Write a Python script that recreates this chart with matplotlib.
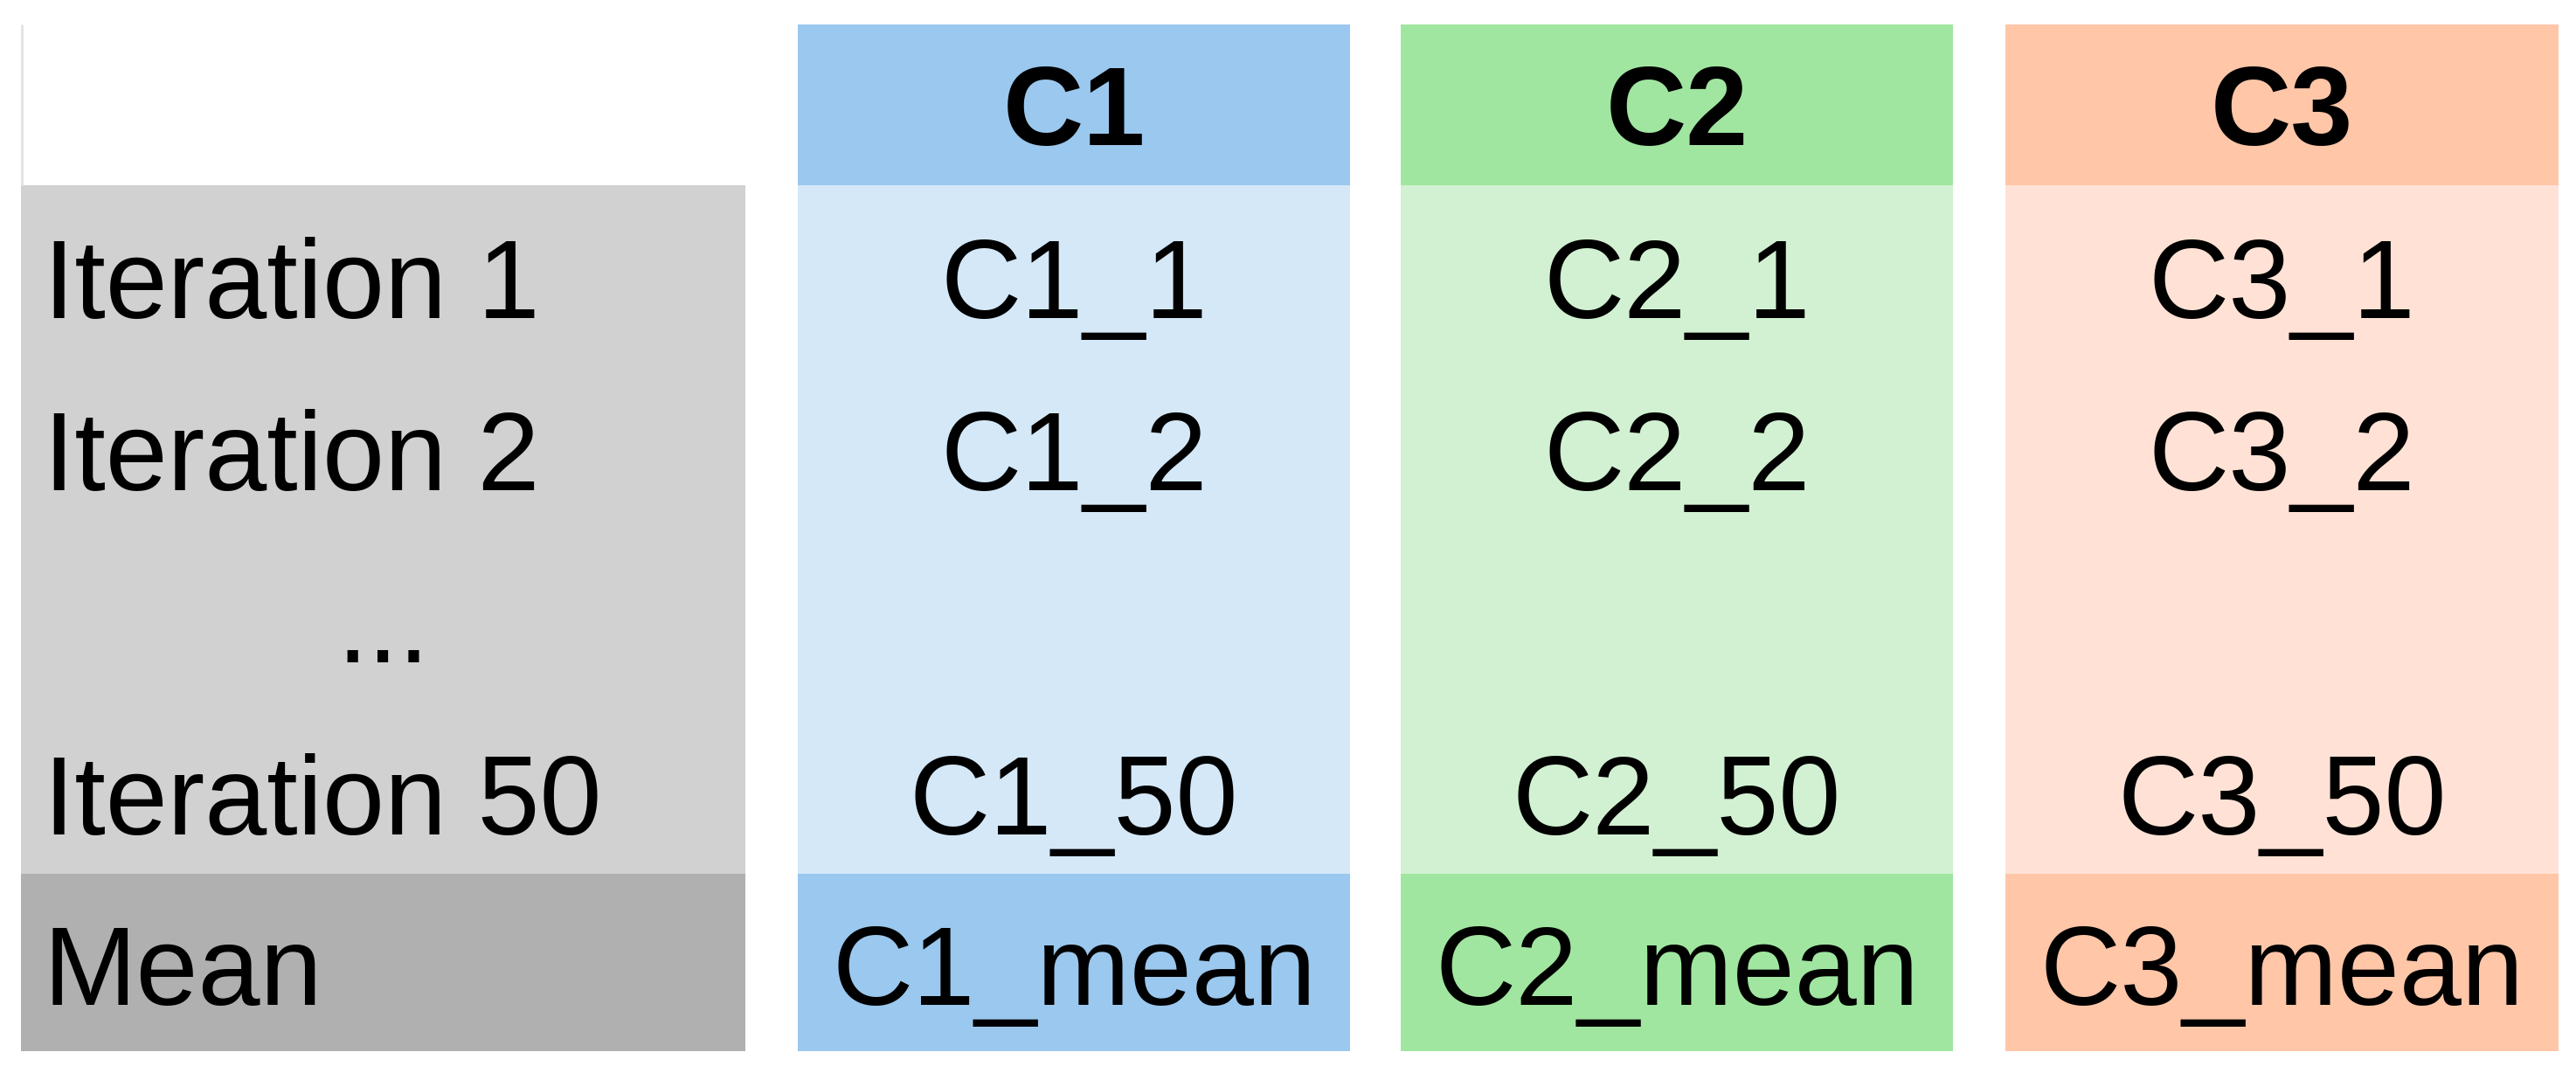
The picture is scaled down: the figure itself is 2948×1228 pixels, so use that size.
import matplotlib
matplotlib.use("Agg")
import matplotlib.pyplot as plt
from matplotlib.patches import Rectangle

plt.rcParams['font.family'] = ['Liberation Sans', 'DejaVu Sans']

# ---- table content ----
columns = ['C1', 'C2', 'C3']
row_labels = ['Iteration 1', 'Iteration 2', '...', 'Iteration 50']
mean_label = 'Mean'
cell_values = {
    'C1': ['C1_1', 'C1_2', '', 'C1_50'],
    'C2': ['C2_1', 'C2_2', '', 'C2_50'],
    'C3': ['C3_1', 'C3_2', '', 'C3_50'],
}
mean_values = ['C1_mean', 'C2_mean', 'C3_mean']

# ---- colours ----
header_colors = ['#9BC8EE', '#A0E6A0', '#FFC6A8']
body_colors = ['#D4E8F8', '#D2F1D2', '#FFE2D5']
label_body_color = '#D1D1D1'
label_mean_color = '#B0B0B0'

# ---- layout (pixels) ----
W, H = 2948, 1228
label_x0, label_x1 = 24, 853
col_x = [(913, 1545), (1603, 2235), (2295, 2928)]
header_y0, header_y1 = 28, 212
body_y1 = 1000
mean_y1 = 1203
header_base = 166
row_bases = [364, 561, 758, 955]
mean_base = 1150
fs = 92

fig = plt.figure(figsize=(W / 100, H / 100), dpi=100)
ax = fig.add_axes([0, 0, 1, 1])
ax.set_xlim(0, W)
ax.set_ylim(H, 0)
ax.axis('off')

def rect(x0, y0, x1, y1, color):
    ax.add_patch(Rectangle((x0, y0), x1 - x0, y1 - y0, facecolor=color,
                           edgecolor='none', linewidth=0))

# label column
ax.plot([label_x0 + 1.5, label_x0 + 1.5], [header_y0, header_y1],
        color='#E4E4E4', linewidth=2.2, solid_capstyle='butt')
rect(label_x0, header_y1, label_x1, body_y1, label_body_color)
rect(label_x0, body_y1, label_x1, mean_y1, label_mean_color)

for lbl, yb in zip(row_labels, row_bases):
    if lbl == '...':
        ax.text((label_x0 + label_x1) / 2, yb, lbl, ha='center', va='baseline',
                fontsize=fs, color='black')
    else:
        ax.text(label_x0 + 26, yb, lbl, ha='left', va='baseline',
                fontsize=fs, color='black')
ax.text(label_x0 + 26, mean_base, mean_label, ha='left', va='baseline',
        fontsize=fs, color='black')

# data columns
for i, col in enumerate(columns):
    x0, x1 = col_x[i]
    xc = (x0 + x1) / 2
    rect(x0, header_y0, x1, header_y1, header_colors[i])
    rect(x0, header_y1, x1, body_y1, body_colors[i])
    rect(x0, body_y1, x1, mean_y1, header_colors[i])
    ax.text(xc, header_base, col, ha='center', va='baseline', fontsize=fs,
            fontweight='bold', color='black')
    for val, yb in zip(cell_values[col], row_bases):
        if val:
            ax.text(xc, yb, val, ha='center', va='baseline', fontsize=fs,
                    color='black')
    ax.text(xc, mean_base, mean_values[i], ha='center', va='baseline',
            fontsize=fs, color='black')

fig.savefig('out.png', dpi=100, facecolor='white')
